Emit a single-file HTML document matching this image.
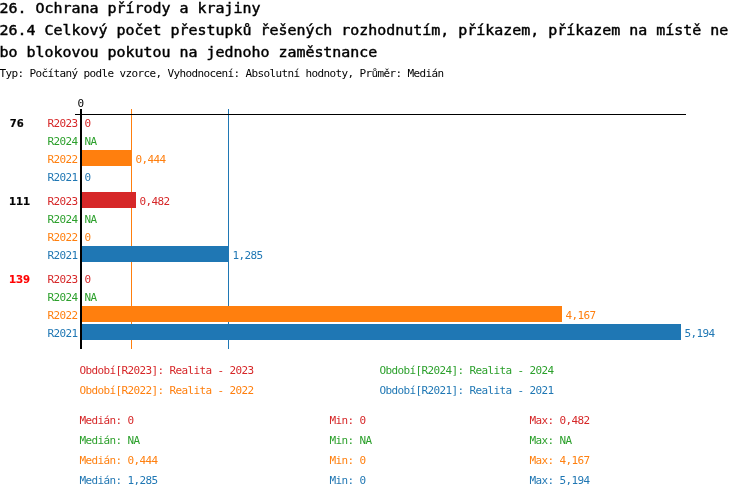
<!DOCTYPE html>
<html lang="cs">
<head>
<meta charset="utf-8">
<title>26.4 Celkový počet přestupků</title>
<style>
html,body{margin:0;padding:0;background:#fff;}
body{width:750px;height:498px;overflow:hidden;position:relative;font-family:"DejaVu Sans Mono","Liberation Mono",monospace;}
svg{position:absolute;left:0;top:0;display:block;}
text{font-family:"DejaVu Sans Mono","Liberation Mono",monospace;font-size:11px;letter-spacing:-0.622px;white-space:pre;}
.t{font-size:13.2px;fill:#000;letter-spacing:0;stroke:#000;stroke-width:0.4px;}
.b{font-weight:bold;letter-spacing:0;stroke-width:0.25px;}
</style>
</head>
<body>
<svg width="750" height="498" viewBox="0 0 750 498">
<rect x="0" y="0" width="750" height="498" fill="#ffffff"/>
<g shape-rendering="crispEdges">
<rect x="131" y="109" width="1" height="240" fill="#ff7f0e"/>
<rect x="228" y="109" width="1" height="240" fill="#1f77b4"/>
<rect x="75" y="114" width="611" height="1" fill="#000"/>
<rect x="82" y="150" width="50" height="16" fill="#ff7f0e"/>
<rect x="82" y="192" width="54" height="16" fill="#d62728"/>
<rect x="82" y="246" width="147" height="16" fill="#1f77b4"/>
<rect x="82" y="306" width="480" height="16" fill="#ff7f0e"/>
<rect x="82" y="324" width="599" height="16" fill="#1f77b4"/>
<rect x="80" y="109" width="2" height="240" fill="#000"/>
</g>
<g transform="scale(1.1325,1)">
<text class="t" x="-0.4" y="13">26. Ochrana přírody a krajiny</text>
<text class="t" x="-0.4" y="35">26.4 Celkový počet přestupků řešených rozhodnutím, příkazem, příkazem na místě ne</text>
<text class="t" x="-0.4" y="57">bo blokovou pokutou na jednoho zaměstnance</text>
</g>
<g transform="translate(-0.5,0)">
<text x="0" y="77" fill="#000">Typ: Počítaný podle vzorce, Vyhodnocení: Absolutní hodnoty, Průměr: Medián</text>
<text x="78" y="107" fill="#000">0</text>
<text class="b" transform="translate(10.3,127) scale(1.0574,1)" fill="#000" stroke="#000">76</text>
<text x="48" y="127" fill="#d62728">R2023</text>
<text x="85" y="127" fill="#d62728">0</text>
<text x="48" y="145" fill="#2ca02c">R2024</text>
<text x="85" y="145" fill="#2ca02c">NA</text>
<text x="48" y="163" fill="#ff7f0e">R2022</text>
<text x="136" y="163" fill="#ff7f0e">0,444</text>
<text x="48" y="181" fill="#1f77b4">R2021</text>
<text x="85" y="181" fill="#1f77b4">0</text>
<text class="b" transform="translate(9.6,205) scale(1.0574,1)" fill="#000" stroke="#000">111</text>
<text x="48" y="205" fill="#d62728">R2023</text>
<text x="140" y="205" fill="#d62728">0,482</text>
<text x="48" y="223" fill="#2ca02c">R2024</text>
<text x="85" y="223" fill="#2ca02c">NA</text>
<text x="48" y="241" fill="#ff7f0e">R2022</text>
<text x="85" y="241" fill="#ff7f0e">0</text>
<text x="48" y="259" fill="#1f77b4">R2021</text>
<text x="233" y="259" fill="#1f77b4">1,285</text>
<text class="b" transform="translate(9.6,283) scale(1.0574,1)" fill="#ff0000" stroke="#ff0000">139</text>
<text x="48" y="283" fill="#d62728">R2023</text>
<text x="85" y="283" fill="#d62728">0</text>
<text x="48" y="301" fill="#2ca02c">R2024</text>
<text x="85" y="301" fill="#2ca02c">NA</text>
<text x="48" y="319" fill="#ff7f0e">R2022</text>
<text x="566" y="319" fill="#ff7f0e">4,167</text>
<text x="48" y="337" fill="#1f77b4">R2021</text>
<text x="685" y="337" fill="#1f77b4">5,194</text>
<text x="80" y="374" fill="#d62728">Období[R2023]: Realita - 2023</text>
<text x="380" y="374" fill="#2ca02c">Období[R2024]: Realita - 2024</text>
<text x="80" y="394" fill="#ff7f0e">Období[R2022]: Realita - 2022</text>
<text x="380" y="394" fill="#1f77b4">Období[R2021]: Realita - 2021</text>
<text x="80" y="424" fill="#d62728">Medián: 0</text>
<text x="330" y="424" fill="#d62728">Min: 0</text>
<text x="530" y="424" fill="#d62728">Max: 0,482</text>
<text x="80" y="444" fill="#2ca02c">Medián: NA</text>
<text x="330" y="444" fill="#2ca02c">Min: NA</text>
<text x="530" y="444" fill="#2ca02c">Max: NA</text>
<text x="80" y="464" fill="#ff7f0e">Medián: 0,444</text>
<text x="330" y="464" fill="#ff7f0e">Min: 0</text>
<text x="530" y="464" fill="#ff7f0e">Max: 4,167</text>
<text x="80" y="484" fill="#1f77b4">Medián: 1,285</text>
<text x="330" y="484" fill="#1f77b4">Min: 0</text>
<text x="530" y="484" fill="#1f77b4">Max: 5,194</text>
</g>
</svg>
</body>
</html>
